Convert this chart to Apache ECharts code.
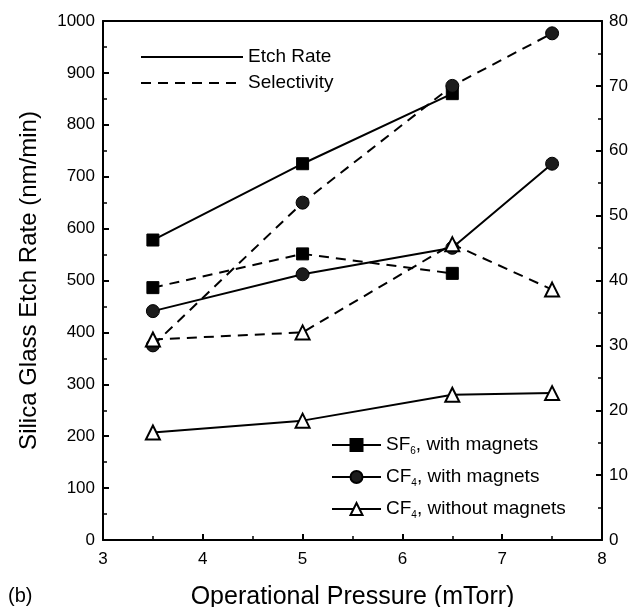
<!DOCTYPE html>
<html>
<head>
<meta charset="utf-8">
<script src="https://cdn.jsdelivr.net/npm/echarts@6/dist/echarts.min.js"></script>
<style>
html,body{margin:0;padding:0;background:#fff;}
#chart{width:641px;height:607px;}
</style>
</head>
<body>
<div id="chart"></div>
<script>
// ---- data ----
const pressure = [3.5, 5, 6.5, 7.5];
const sf6EtchRate = [578, 725, 860];
const cf4MagEtchRate = [441, 512, 563, 725];
const cf4NoMagEtchRate = [207, 230, 280, 283];
const sf6Selectivity = [38.9, 44.1, 41.1];
const cf4MagSelectivity = [30.0, 52.0, 70.0, 78.1];
const cf4NoMagSelectivity = [30.9, 32.0, 45.6, 38.6];
const xTicks = [3, 4, 5, 6, 7, 8];
const seriesNames = ['SF6, with magnets', 'CF4, with magnets', 'CF4, without magnets'];
const styleNames = ['Etch Rate', 'Selectivity'];

const FONT = "'Liberation Sans', Arial, sans-serif";
const pairs = (xs, ys) => ys.map((v, i) => [xs[i], v]);

const markers = {
  'SF6, with magnets': {symbol: 'rect', symbolSize: 12, itemStyle: {color: '#000', borderColor: '#000', borderWidth: 1}},
  'CF4, with magnets': {symbol: 'circle', symbolSize: 13, itemStyle: {color: '#1c1c1c', borderColor: '#000', borderWidth: 1}},
  'CF4, without magnets': {symbol: 'triangle', symbolSize: 14, itemStyle: {color: '#fff', borderColor: '#000', borderWidth: 2}}
};

function mk(name, data, yIdx, dashed, z) {
  const m = markers[name];
  return {
    name: name, type: 'line', xAxisIndex: 0, yAxisIndex: yIdx,
    data: data, symbol: m.symbol, symbolSize: m.symbolSize, showSymbol: true,
    itemStyle: m.itemStyle,
    lineStyle: {color: '#000', width: 2, type: dashed ? [10, 7] : 'solid'},
    animation: false, z: z, silent: true
  };
}

const series = [
  mk(seriesNames[0], pairs(pressure, sf6EtchRate), 0, false, 3),
  mk(seriesNames[1], pairs(pressure, cf4MagEtchRate), 0, false, 3),
  mk(seriesNames[2], pairs(pressure, cf4NoMagEtchRate), 0, false, 3),
  mk(seriesNames[0], pairs(pressure, sf6Selectivity), 1, true, 4),
  mk(seriesNames[1], pairs(pressure, cf4MagSelectivity), 1, true, 4),
  mk(seriesNames[2], pairs(pressure, cf4NoMagSelectivity), 1, true, 5),
  {name: styleNames[0], type: 'line', data: [], symbol: 'none', lineStyle: {color: '#000', width: 2, type: 'solid'}, itemStyle: {color: '#000'}, animation: false},
  {name: styleNames[1], type: 'line', data: [], symbol: 'none', lineStyle: {color: '#000', width: 2, type: [10, 7]}, itemStyle: {color: '#000'}, animation: false}
];

const legendLabels = {
  'SF6, with magnets': 'SF{sub|6}, with magnets',
  'CF4, with magnets': 'CF{sub|4}, with magnets',
  'CF4, without magnets': 'CF{sub|4}, without magnets'
};

const axisLine = {show: true, onZero: false, lineStyle: {color: '#000', width: 2}};
const chart = echarts.init(document.getElementById('chart'), null, {renderer: 'canvas'});
chart.setOption({
  backgroundColor: '#fff',
  animation: false,
  textStyle: {fontFamily: FONT},
  title: {text: '(b)', left: 8, top: 586, padding: 0, textStyle: {fontFamily: FONT, fontSize: 20, fontWeight: 'normal', color: '#000'}},
  grid: {left: 103, right: 39, top: 21, bottom: 67, containLabel: false, outerBoundsMode: 'none'},
  legend: [
    {
      data: styleNames, orient: 'vertical', left: 140, top: 47, padding: 0,
      itemWidth: 102, itemHeight: 14, itemGap: 6,
      itemStyle: {opacity: 0},
      textStyle: {fontFamily: FONT, fontSize: 19, color: '#000', lineHeight: 20},
      selectedMode: false
    },
    {
      data: seriesNames, orient: 'vertical', left: 331, top: 434, padding: 0,
      itemWidth: 49, itemHeight: 15, itemGap: 10,
      formatter: n => legendLabels[n],
      textStyle: {fontFamily: FONT, fontSize: 19, color: '#000', lineHeight: 22,
        rich: {sub: {fontFamily: FONT, fontSize: 10, color: '#000', verticalAlign: 'bottom', lineHeight: 22}}},
      selectedMode: false
    }
  ],
  xAxis: [
    {
      type: 'value', min: xTicks[0], max: xTicks[xTicks.length - 1], interval: 1, position: 'bottom',
      name: 'Operational Pressure (mTorr)', nameLocation: 'middle', nameGap: 45,
      nameTextStyle: {fontFamily: FONT, fontSize: 25, color: '#000'},
      axisLine: axisLine,
      axisTick: {show: true, inside: true, length: 6, lineStyle: {color: '#000', width: 2}},
      minorTick: {show: true, splitNumber: 2, length: 4, lineStyle: {color: '#000', width: 1.5}},
      axisLabel: {fontFamily: FONT, fontSize: 17, color: '#000', margin: 11},
      splitLine: {show: false}
    },
    {
      type: 'value', min: xTicks[0], max: xTicks[xTicks.length - 1], interval: 1, position: 'top',
      axisLine: axisLine, axisTick: {show: false}, axisLabel: {show: false}, splitLine: {show: false}
    }
  ],
  yAxis: [
    {
      type: 'value', min: 0, max: 1000, interval: 100, position: 'left',
      name: 'Silica Glass Etch Rate (nm/min)', nameLocation: 'middle', nameGap: 62,
      nameTextStyle: {fontFamily: FONT, fontSize: 24, color: '#000'},
      axisLine: axisLine,
      axisTick: {show: true, inside: true, length: 6, lineStyle: {color: '#000', width: 2}},
      minorTick: {show: true, splitNumber: 2, length: 4, lineStyle: {color: '#000', width: 1.5}},
      axisLabel: {fontFamily: FONT, fontSize: 17, color: '#000', margin: 8, formatter: v => String(v)},
      splitLine: {show: false}
    },
    {
      type: 'value', min: 0, max: 80, interval: 10, position: 'right',
      axisLine: axisLine,
      axisTick: {show: true, inside: true, length: 6, lineStyle: {color: '#000', width: 2}},
      minorTick: {show: true, splitNumber: 2, length: 4, lineStyle: {color: '#000', width: 1.5}},
      axisLabel: {fontFamily: FONT, fontSize: 17, color: '#000', margin: 7, formatter: v => String(v)},
      splitLine: {show: false}
    }
  ],
  series: series
});
</script>
</body>
</html>
